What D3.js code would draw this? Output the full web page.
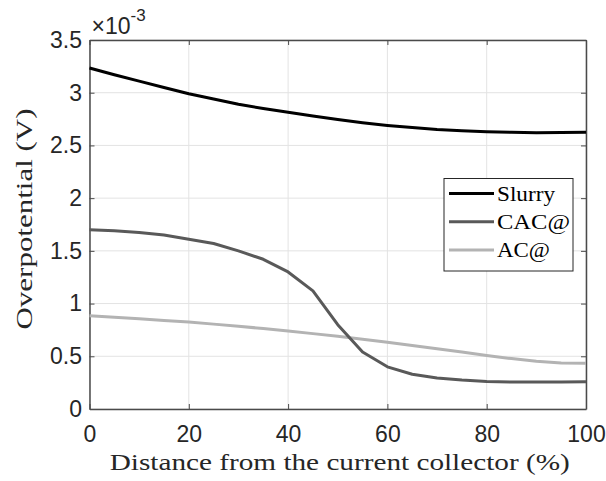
<!DOCTYPE html>
<html>
<head>
<meta charset="utf-8">
<script src="https://cdn.jsdelivr.net/npm/d3@7"></script>
<style>
  body { margin: 0; background: #fff; }
  svg { display: block; }
  .tick text { font-family: 'Liberation Sans', Arial, sans-serif; font-size: 23px; fill: #262626; }
</style>
</head>
<body>
<div class="chart"></div>
<script>
'use strict'
// distance from the current collector (%)
var xs = [0, 5, 10, 15, 20, 25, 30, 35, 40, 45, 50, 55, 60, 65, 70, 75, 80, 85, 90, 95, 100]
// overpotential, units of 1e-3 V
var slurry = [3.235, 3.17, 3.11, 3.05, 2.99, 2.94, 2.89, 2.85, 2.815, 2.78, 2.745, 2.715, 2.69, 2.67, 2.65, 2.64, 2.63, 2.625, 2.62, 2.622, 2.625]
var cac = [1.70, 1.69, 1.675, 1.65, 1.61, 1.57, 1.50, 1.42, 1.30, 1.12, 0.80, 0.54, 0.40, 0.33, 0.295, 0.275, 0.262, 0.256, 0.255, 0.256, 0.258]
var ac = [0.885, 0.87, 0.855, 0.84, 0.825, 0.805, 0.785, 0.763, 0.74, 0.715, 0.69, 0.662, 0.633, 0.603, 0.572, 0.54, 0.508, 0.478, 0.452, 0.437, 0.434]
var seriesNames = ['Slurry', 'CAC@', 'AC@']
var xTicks = [0, 20, 40, 60, 80, 100]
var yTicks = [0, 0.5, 1, 1.5, 2, 2.5, 3, 3.5]

var width = 606
var height = 481
var margin = { left: 89.5, right: 20, top: 40, bottom: 72 }
var x = d3.scaleLinear().domain([0, 100]).range([margin.left, width - margin.right])
var y = d3.scaleLinear().domain([0, 3.5]).range([height - margin.bottom, margin.top])

var svg = d3.select('.chart').append('svg')
  .attr('width', width)
  .attr('height', height)

// grid
svg.append('g').selectAll('line')
  .data(xTicks)
  .enter().append('line')
  .attr('x1', function (d) { return x(d) })
  .attr('x2', function (d) { return x(d) })
  .attr('y1', y(0))
  .attr('y2', y(3.5))
  .attr('stroke', '#e3e3e3')
  .attr('stroke-width', 1)
svg.append('g').selectAll('line')
  .data(yTicks)
  .enter().append('line')
  .attr('x1', x(0))
  .attr('x2', x(100))
  .attr('y1', function (d) { return y(d) })
  .attr('y2', function (d) { return y(d) })
  .attr('stroke', '#e3e3e3')
  .attr('stroke-width', 1)

var axisColor = '#4a4a4a'
var styleAxis = function (g) {
  g.attr('font-size', 23).attr('font-family', 'Liberation Sans, Arial, sans-serif')
  g.select('.domain').attr('stroke', axisColor).attr('stroke-width', 1.5)
  g.selectAll('.tick line').attr('stroke', axisColor)
}

// axes (ticks pointing inwards, box all round)
svg.append('g')
  .attr('transform', 'translate(0,' + y(0) + ')')
  .call(d3.axisBottom(x).tickValues(xTicks).tickSizeInner(-5).tickSizeOuter(0).tickPadding(17))
  .call(styleAxis)
svg.append('g')
  .attr('transform', 'translate(0,' + y(3.5) + ')')
  .call(d3.axisTop(x).tickValues(xTicks).tickSizeInner(-5).tickSizeOuter(0).tickFormat(''))
  .call(styleAxis)
svg.append('g')
  .attr('transform', 'translate(' + x(0) + ',0)')
  .call(d3.axisLeft(y).tickValues(yTicks).tickSizeInner(-5).tickSizeOuter(0).tickPadding(7.5).tickFormat(d3.format('~g')))
  .call(styleAxis)
svg.append('g')
  .attr('transform', 'translate(' + x(100) + ',0)')
  .call(d3.axisRight(y).tickValues(yTicks).tickSizeInner(-5).tickSizeOuter(0).tickFormat(''))
  .call(styleAxis)

// exponent label
var expo = svg.append('text')
  .attr('x', x(0) + 2)
  .attr('y', 33.5)
  .attr('fill', '#262626')
  .attr('font-family', 'Liberation Sans, Arial, sans-serif')
  .attr('font-size', 23)
expo.append('tspan').text('\u00d710')
expo.append('tspan').attr('dy', -13).attr('font-size', 17).text('-3')

// lines
var colors = ['#000000', '#595959', '#b3b3b3']
var widths = [3, 3, 3]
var line = d3.line()
  .x(function (d, i) { return x(xs[i]) })
  .y(function (d) { return y(d) })
  .curve(d3.curveLinear)
var allSeries = [slurry, cac, ac]
allSeries.slice().reverse().forEach(function (s, j) {
  var i = allSeries.length - 1 - j
  svg.append('path')
    .datum(s)
    .attr('d', line)
    .attr('fill', 'none')
    .attr('stroke', colors[i])
    .attr('stroke-width', widths[i])
    .attr('stroke-linejoin', 'round')
})

// axis titles
svg.append('text')
  .attr('x', (x(0) + x(100)) / 2 + 2)
  .attr('y', 470)
  .attr('text-anchor', 'middle')
  .attr('fill', '#262626')
  .attr('textLength', 460)
  .attr('lengthAdjust', 'spacingAndGlyphs')
  .attr('font-family', 'Liberation Serif, Times New Roman, serif')
  .attr('font-size', 24)
  .text('Distance from the current collector (%)')
svg.append('text')
  .attr('transform', 'translate(32,' + 219 + ') rotate(-90)')
  .attr('text-anchor', 'middle')
  .attr('fill', '#262626')
  .attr('textLength', 221)
  .attr('lengthAdjust', 'spacingAndGlyphs')
  .attr('font-family', 'Liberation Serif, Times New Roman, serif')
  .attr('font-size', 24)
  .text('Overpotential (V)')

// legend
var legend = svg.append('g')
legend.append('rect')
  .attr('x', 444)
  .attr('y', 178.5)
  .attr('width', 129)
  .attr('height', 92.5)
  .attr('fill', '#fff')
  .attr('stroke', '#262626')
  .attr('stroke-width', 1)
var legendY = d3.scalePoint().domain(seriesNames).range([193.5, 250])
seriesNames.forEach(function (name, i) {
  legend.append('line')
    .attr('x1', 449)
    .attr('x2', 494)
    .attr('y1', legendY(name))
    .attr('y2', legendY(name))
    .attr('stroke', colors[i])
    .attr('stroke-width', 3)
  legend.append('text')
    .attr('x', 497)
    .attr('y', legendY(name) + 7)
    .attr('fill', '#000')
    .attr('textLength', name === 'Slurry' ? 58 : (name === 'CAC@' ? 73 : 53))
    .attr('lengthAdjust', 'spacingAndGlyphs')
    .attr('font-family', 'Liberation Serif, Times New Roman, serif')
    .attr('font-size', 22)
    .text(name)
})
</script>
</body>
</html>
